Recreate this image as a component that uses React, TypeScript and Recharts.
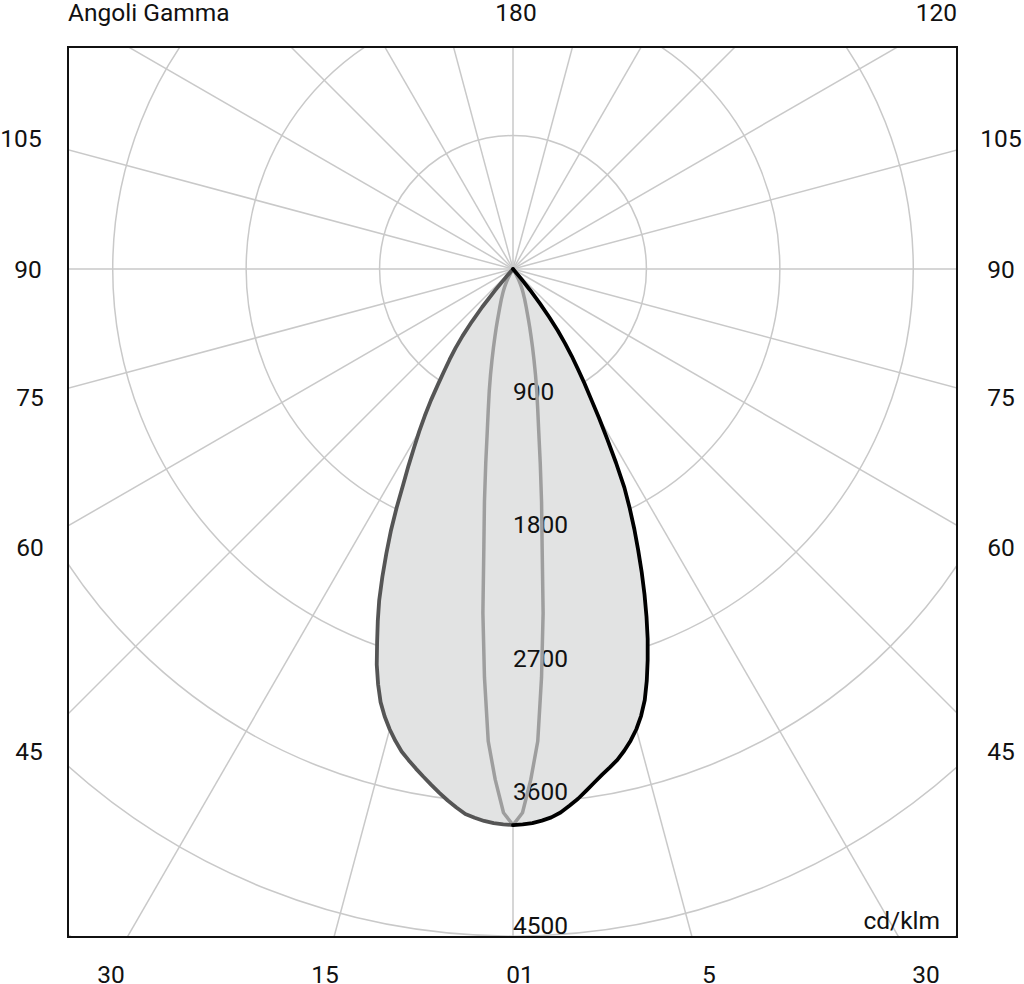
import React from 'react';
import { RadarChart, Radar, PolarGrid, PolarAngleAxis, PolarRadiusAxis } from 'recharts';

// Luminous intensity in cd/klm, one value per degree of gamma starting at the nadir (gamma = 0).
// Values past the end of each list are zero.
const C0_PLANE = [
  3751, 3747, 3740, 3726, 3708, 3680, 3640, 3600, 3553, 3507, 3463, 3424, 3385, 3335, 3279,
  3214, 3135, 3040, 2920, 2790, 2656, 2513, 2368, 2222, 2076, 1937, 1796, 1655, 1480, 1310,
  1162, 1020, 909, 802, 708, 612, 513, 405, 296, 182, 85, 0,
];
const C180_PLANE = [
  3751, 3746, 3740, 3728, 3710, 3690, 3652, 3612, 3568, 3523, 3478, 3433, 3387, 3340, 3280,
  3214, 3140, 3055, 2945, 2823, 2680, 2545, 2409, 2255, 2100, 1950, 1790, 1630, 1500, 1375,
  1265, 1155, 1045, 930, 830, 745, 660, 565, 450, 330, 190, 70, 0,
];
const C90_C270_PLANE = [
  3751, 3668, 3445, 3190, 2760, 2330, 1880, 1580, 1320, 1110, 960, 840, 730, 630, 545, 470,
  410, 355, 310, 275, 245, 220, 195, 175, 155, 135, 115, 95, 75, 55, 35, 15, 0,
];

const RING_VALUES = [900, 1800, 2700, 3600, 4500, 5400, 6300];
const RING_LABELS_DOWN = [900, 1800, 2700, 3600, 4500];
const RING_LABELS_UP = [900];
const SPOKE_ANGLES = [0, 15, 30, 45, 60, 75, 90, 105, 120, 135, 150, 165, 180, 195, 210, 225, 240, 255, 270, 285, 300, 315, 330, 345];
const TOP_LABELS = ['Angoli Gamma', '180', '120'];
const SIDE_LABELS = ['105', '90', '75', '60', '45'];
const BOTTOM_LABELS = ['30', '15', '01', '5', '30'];
const UNIT_LABEL = 'cd/klm';

const FONT = 'Roboto, "DejaVu Sans", sans-serif';
const FONT_SIZE = 24.5;

// plot frame on the page
const FRAME = { left: 68, top: 47, width: 889, height: 890 };
const CENTER = { x: 445, y: 222 };
const OUTER_RADIUS = 934;
const R_MAX = 6300;

const valueAt = (list: number[], gamma: number) => (gamma < list.length ? list[gamma] : 0);

// Angle axis runs 0..360 counter-clockwise from the nadir:
// the C0 half lies at angle = gamma, the C180 half at angle = 360 - gamma.
const fullRows = Array.from({ length: 360 }, (_, a) => {
  const rightSide = a <= 180;
  const gamma = rightSide ? a : 360 - a;
  return {
    angle: a,
    envelope: rightSide ? valueAt(C0_PLANE, gamma) : valueAt(C180_PLANE, gamma),
    c90: valueAt(C90_C270_PLANE, gamma),
  };
});

// A single half-plane curve, traced out from the nadir and back again so that
// the closed radar outline never cuts across the lobe.
const halfCurveRows = (list: number[], side: 1 | -1) => {
  const out = list.map((v, gamma) => ({ angle: side === 1 ? gamma : 360 - gamma, value: v }));
  return [...out, ...out.slice().reverse()];
};
const c0Rows = halfCurveRows(C0_PLANE, 1);
const c180Rows = halfCurveRows(C180_PLANE, -1);

const RingTick = (props: any) => {
  const { x, y, payload } = props;
  return (
    <text x={x} y={y - 2.5} textAnchor="start" fontFamily={FONT} fontSize={FONT_SIZE} fill="#111">
      {payload.value}
    </text>
  );
};

const labelStyle = { fontFamily: FONT, fontSize: FONT_SIZE, fill: '#111' } as const;

const TOP_X = [68, 516, 957];
const TOP_ANCHOR = ['start', 'middle', 'end'] as const;
const SIDE_Y = [138, 269, 397, 547, 751];
const LEFT_X = [21, 28, 30, 30, 29];
const RIGHT_X = 1001;
const BOTTOM_X = [111, 325, 520, 709, 926];
const baseline = (centerY: number) => centerY + FONT_SIZE * 0.355;

function PolarLayer({ data, children }: { data: any[]; children: React.ReactNode }) {
  return (
    <div style={{ position: 'absolute', left: FRAME.left, top: FRAME.top }}>
      <RadarChart
        width={FRAME.width}
        height={FRAME.height}
        data={data}
        cx={CENTER.x}
        cy={CENTER.y}
        innerRadius={0}
        outerRadius={OUTER_RADIUS}
        startAngle={-90}
        endAngle={270}
        margin={{ top: 0, right: 0, bottom: 0, left: 0 }}
      >
        <PolarAngleAxis type="number" dataKey="angle" domain={[0, 360]} tick={false} tickLine={false} axisLine={false} />
        {children}
      </RadarChart>
    </div>
  );
}

const hiddenRadius = (
  <PolarRadiusAxis angle={-90} type="number" domain={[0, R_MAX]} tick={false} axisLine={false} tickLine={false} />
);

export default function App() {
  return (
    <div style={{ position: 'absolute', left: 0, top: 0, width: 1024, height: 984, background: '#fff' }}>
      <PolarLayer data={fullRows}>
        <PolarGrid
          gridType="circle"
          polarAngles={SPOKE_ANGLES}
          polarRadius={RING_VALUES.map((v) => (v / R_MAX) * OUTER_RADIUS)}
          stroke="#c9c9c9"
          strokeWidth={1.5}
        />
        <PolarRadiusAxis
          angle={-90}
          type="number"
          domain={[0, R_MAX]}
          ticks={RING_LABELS_DOWN}
          tick={RingTick}
          axisLine={false}
          tickLine={false}
        />
        <PolarRadiusAxis
          radiusAxisId="up"
          angle={90}
          type="number"
          domain={[0, R_MAX]}
          ticks={RING_LABELS_UP}
          tick={RingTick}
          axisLine={false}
          tickLine={false}
        />
        <Radar dataKey="envelope" fill="#e2e3e3" fillOpacity={1} stroke="none" isAnimationActive={false} />
      </PolarLayer>
      <PolarLayer data={fullRows}>
        {hiddenRadius}
        <Radar dataKey="c90" fill="none" fillOpacity={0} stroke="#9e9e9e" strokeWidth={3.5} strokeLinejoin="round" isAnimationActive={false} />
      </PolarLayer>
      <PolarLayer data={c180Rows}>
        {hiddenRadius}
        <Radar dataKey="value" fill="none" fillOpacity={0} stroke="#555555" strokeWidth={3.8} strokeLinejoin="round" isAnimationActive={false} />
      </PolarLayer>
      <PolarLayer data={c0Rows}>
        {hiddenRadius}
        <Radar dataKey="value" fill="none" fillOpacity={0} stroke="#000000" strokeWidth={3.8} strokeLinejoin="round" isAnimationActive={false} />
      </PolarLayer>
      <svg width={1024} height={984} style={{ position: 'absolute', left: 0, top: 0, pointerEvents: 'none' }}>
        <rect x={FRAME.left} y={FRAME.top} width={FRAME.width} height={FRAME.height} fill="none" stroke="#111" strokeWidth={2} />
        {TOP_LABELS.map((t, i) => (
          <text key={`t${i}`} x={TOP_X[i]} y={baseline(12)} textAnchor={TOP_ANCHOR[i]} {...labelStyle}>{t}</text>
        ))}
        {SIDE_LABELS.map((t, i) => (
          <text key={`l${i}`} x={LEFT_X[i]} y={baseline(SIDE_Y[i])} textAnchor="middle" {...labelStyle}>{t}</text>
        ))}
        {SIDE_LABELS.map((t, i) => (
          <text key={`r${i}`} x={RIGHT_X} y={baseline(SIDE_Y[i])} textAnchor="middle" {...labelStyle}>{t}</text>
        ))}
        {BOTTOM_LABELS.map((t, i) => (
          <text key={`b${i}`} x={BOTTOM_X[i]} y={baseline(974)} textAnchor="middle" {...labelStyle}>{t}</text>
        ))}
        <text x={940} y={baseline(920)} textAnchor="end" {...labelStyle}>{UNIT_LABEL}</text>
      </svg>
    </div>
  );
}
